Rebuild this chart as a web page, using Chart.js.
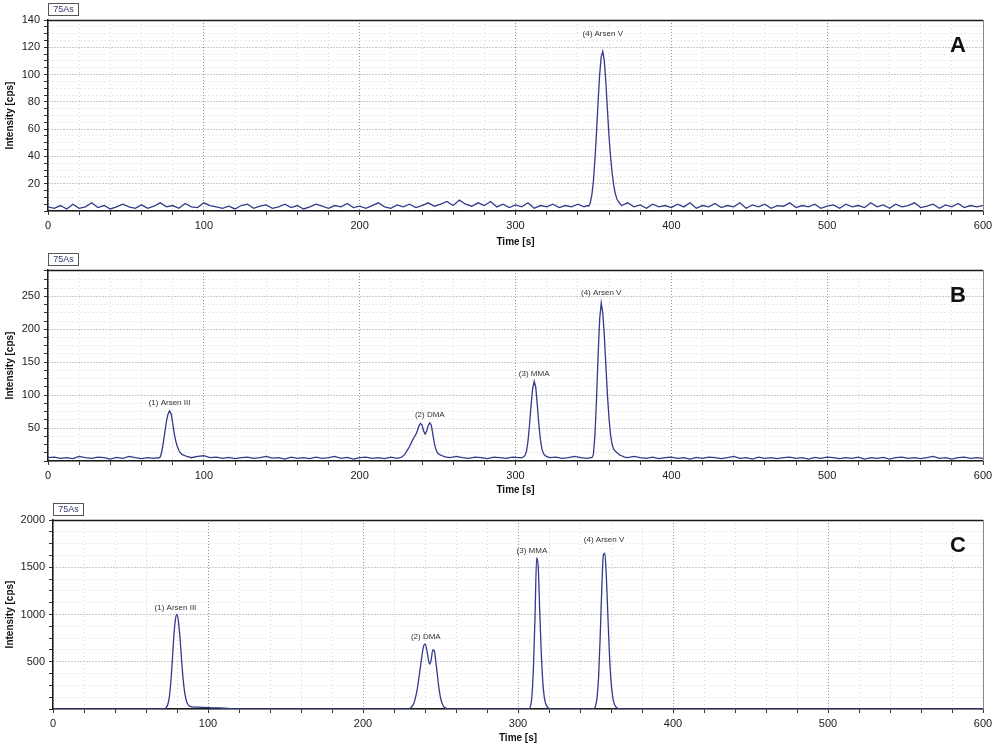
<!DOCTYPE html>
<html>
<head>
<meta charset="utf-8">
<script src="https://cdn.jsdelivr.net/npm/chart.js@4.4.1/dist/chart.umd.min.js"></script>
<style>
  html, body { margin: 0; padding: 0; background: #fff; }
  #wrap { position: relative; width: 1000px; height: 750px; overflow: hidden; background: #fff; }
  #wrap canvas { position: absolute; left: 0; }
</style>
</head>
<body>
<div id="wrap">
  <canvas id="pa" width="1000" height="250" style="top:0"></canvas>
  <canvas id="pb" width="1000" height="250" style="top:250px"></canvas>
  <canvas id="pc" width="1000" height="250" style="top:500px"></canvas>
</div>
<script>
// ---- data (time [s] / intensity [cps]) ----
const aTime = [0,4,8,12,16,20,24,28,32,36,40,44,48,52,56,60,64,68,72,76,80,84,88,92,96,100,104,108,112,116,
  120,124,128,132,136,140,144,148,152,156,160,164,168,172,176,180,184,188,192,196,200,204,208,212,216,220,224,228,232,236,
  240,244,248,252,256,260,264,268,272,276,280,284,288,292,296,300,304,308,312,316,320,324,328,332,336,340,344,
  346,347,348,349,350,351,352,353,354,355,356,357,358,359,360,361,362,363,364,365,366,367,368,
  372,376,380,384,388,392,396,400,404,408,412,416,420,424,428,432,436,440,444,448,452,456,460,464,468,472,476,480,484,488,
  492,496,500,504,508,512,516,520,524,528,532,536,540,544,548,552,556,560,564,568,572,576,580,584,588,592,596,600];
const aCps = [3,2,4,1.5,5,2,3,6,2.5,4,1.5,3,5,3,2,4.5,2,3.5,6,3,4,2,5.5,3,2.5,6,4,3,2,3.5,
  1.5,4,5,2,3.5,4.5,2,3,5,2.5,4,1.5,3,5,3.5,2,4,3,5.5,2.5,3.5,2,4,6,3,2,4.5,3,5,2.5,
  4,6,3.5,5,7,4,8,5,3.5,6,4,7,3,5,2.5,4.5,3,6,2,4,3,5,2.5,4,3,5,3,
  4,3.5,6,12,22,38,58,80,100,113,117,110,94,74,55,40,28,19,13,9,7,5.5,4,
  6,3,4.5,2,5,3,4,2.5,5,3,6,2,4,3,5.5,2.5,4,3,6,2,4.5,3,5,2,4,3.5,6,2.5,4,3,
  5,2,3.5,4.5,2,5,3,4,2.5,6,3,4.5,2,5,3,4,6,2.5,3.5,5,2,4.5,3,5.5,2.5,4,3,4];

const bTime = [0,4,8,12,16,20,24,28,32,36,40,44,48,52,56,60,64,68,
  70,71,72,73,74,75,76,77,78,79,80,81,82,83,84,85,86,87,88,89,90,
  92,96,100,104,108,112,116,120,124,128,132,136,140,144,148,152,156,160,164,168,172,176,180,184,188,192,196,200,204,208,212,216,220,224,
  226,227,228,229,230,231,232,233,234,235,236,237,238,239,240,241,242,243,244,245,246,247,248,249,250,251,252,253,254,255,256,
  258,262,266,270,274,278,282,286,290,294,298,302,
  304,305,306,307,308,309,310,311,312,313,314,315,316,317,318,319,320,321,322,
  326,330,334,338,342,346,
  348,349,350,351,352,353,354,355,356,357,358,359,360,361,362,363,364,365,366,367,368,369,370,
  372,376,380,384,388,392,396,400,404,408,412,416,420,424,428,432,436,440,444,448,452,456,460,464,468,472,476,480,484,488,
  492,496,500,504,508,512,516,520,524,528,532,536,540,544,548,552,556,560,564,568,572,576,580,584,588,592,596,600];
const bCps = [5,6,4,5,3.5,7,5,4,6,5,3,5.5,4,7,5,3.5,5,4,
  5,4.5,6,14,28,44,60,71,76,72,58,42,30,22,16,12,10,9,8,7,6.5,
  5,7,8,5,6,4,5.5,3.5,5,6,4,5,7,4.5,5,3,6,4,5,3.5,6,4,5,7,4,5.5,3,5,6,4,5,3.5,6,4,
  5,6,8,10,14,18,22,27,32,36,40,46,53,57,55,46,41,45,54,58,54,40,26,17,12,10,9,8,7,6,6,
  5,7,5,4,6,5,3.5,6,5,4,6,5,
  5,6,8,14,30,55,85,110,121,112,85,55,32,18,11,8,7,6,5,
  6,4,5,7,5,4,
  5,5,10,40,95,160,215,240,225,190,145,100,65,40,25,18,15,13,11,9,8,7,6,
  5,7,5,4,6,3.5,5,6,4,5,3,5.5,4,6,5,3.5,5,7,4,5,3,6,4,5,3.5,5,6,4,5,3,
  5.5,4,6,5,3.5,5,4,6,3,5,4,5.5,3,5,6,4,5,3.5,5,7,4,5,3,5,6,4,5,4];

const cTime = [0,40,70,71,72,73,74,75,76,77,78,79,80,81,82,83,84,85,86,87,88,89,90,92,96,100,105,110,115,120,125,180,
  228,229,230,231,232,233,234,235,236,237,238,239,240,241,242,243,244,245,246,247,248,249,250,251,252,253,254,255,256,280,
  305,307,308,309,310,311,312,313,314,315,316,317,318,319,320,321,322,335,
  347,349,350,351,352,353,354,355,356,357,358,359,360,361,362,363,364,365,366,367,450,600];
const cCps = [0,0,0,1,4,15,45,120,280,520,780,950,1000,920,740,510,310,170,90,50,32,25,22,20,18,15,12,9,5,2,0,0,
  0,1,5,15,35,70,130,210,320,440,560,660,690,640,540,475,520,625,615,500,360,220,120,60,28,12,5,1,0,0,
  0,3,25,140,460,980,1600,1520,1050,600,290,120,50,20,8,2,0,0,
  0,5,30,120,340,750,1250,1620,1650,1400,980,580,300,140,60,25,10,4,1,0,0,0];

// peak annotations: name, time and the intensity level where the label sits
const speciesNames = ['(1) Arsen III', '(2) DMA', '(3) MMA', '(4) Arsen V'];
const aPeakNames = ['(4) Arsen V'];
const aPeakTimes = [356];
const aPeakLevels = [130];
const bPeakTimes = [78, 245, 312, 355];
const bPeakLevels = [89, 70, 133, 255];
const cPeakTimes = [79, 240.5, 309, 355.5];
const cPeakLevels = [1075, 766, 1670, 1787];

const xTickStep = 20, xTickMajor = 100;
const FONT = "Arial, 'Liberation Sans', sans-serif";
const LINE = '#333a8a';
const GRID_MAJOR = '#979797', GRID_MINOR = '#d6d6d6';

const near = (v, m) => Math.abs(v / m - Math.round(v / m)) < 1e-6;

// frame, "75As" tag, panel letter, peak labels
const panelDecor = {
  id: 'panelDecor',
  afterDraw(chart, args, o) {
    const { ctx, chartArea: a, scales: { x, y } } = chart;
    ctx.save();
    ctx.lineWidth = 1.5; ctx.strokeStyle = '#1a1a1a';
    ctx.beginPath(); ctx.moveTo(a.left, a.top + 0.5); ctx.lineTo(a.right, a.top + 0.5); ctx.stroke();
    ctx.lineWidth = 1; ctx.strokeStyle = '#8a8a8a';
    ctx.beginPath(); ctx.moveTo(a.right + 0.5, a.top); ctx.lineTo(a.right + 0.5, a.bottom); ctx.stroke();

    // tag box
    ctx.strokeStyle = '#555'; ctx.fillStyle = '#fff';
    ctx.fillRect(a.left, a.top - 17, 30, 12);
    ctx.strokeRect(a.left + 0.5, a.top - 16.5, 30, 12);
    ctx.fillStyle = '#2f3a6a'; ctx.font = '9px ' + FONT;
    ctx.textAlign = 'center'; ctx.textBaseline = 'middle';
    ctx.fillText(o.tag, a.left + 15.5, a.top - 10.5);

    // panel letter
    ctx.fillStyle = '#111'; ctx.font = 'bold 22px ' + FONT;
    ctx.fillText(o.letter, a.right - 25, a.top + 26);

    // peak labels
    ctx.fillStyle = '#333'; ctx.font = '8px ' + FONT;
    o.names.forEach((n, i) => {
      ctx.fillText(n, x.getPixelForValue(o.times[i]), y.getPixelForValue(o.levels[i]));
    });
    ctx.restore();
  }
};

function makePanel(id, p) {
  const gridColor = (major) => (c) => (c.tick && near(c.tick.value, major) ? GRID_MAJOR : GRID_MINOR);
  const gridDash = (major) => (c) => (c.tick ? (near(c.tick.value, major) ? [1, 2] : [1, 3]) : []);
  return new Chart(document.getElementById(id), {
    type: 'line',
    data: {
      datasets: [{
        data: p.time.map((t, i) => ({ x: t, y: p.cps[i] })),
        borderColor: LINE, borderWidth: 1.3, pointRadius: 0, fill: false,
        tension: p.smooth ? 0.4 : 0, cubicInterpolationMode: p.smooth ? 'monotone' : 'default'
      }]
    },
    options: {
      responsive: false, animation: false, events: [],
      layout: { padding: { top: 20, right: 17, left: 0, bottom: 0 } },
      plugins: {
        legend: { display: false }, tooltip: { enabled: false },
        panelDecor: { tag: '75As', letter: p.letter, names: p.names, times: p.peakTimes, levels: p.peakLevels }
      },
      scales: {
        x: {
          type: 'linear', min: 0, max: 600,
          afterFit: (s) => { s.height = p.xAxisH; },
          ticks: {
            stepSize: xTickStep, autoSkip: false, maxRotation: 0, minRotation: 0, padding: 4,
            color: '#222', font: { family: FONT, size: 11 },
            callback: (v) => (near(v, xTickMajor) ? String(v) : '')
          },
          grid: { color: gridColor(xTickMajor), tickColor: '#333', tickLength: 4, lineWidth: 1 },
          border: { color: '#1a1a1a', width: 1.5, dash: gridDash(xTickMajor) },
          title: { display: true, text: 'Time [s]', color: '#111', font: { family: FONT, size: 10, weight: 'bold' }, padding: { top: 0, bottom: p.titlePad } }
        },
        y: {
          type: 'linear', min: 0, max: p.yMax,
          afterFit: (s) => { s.width = p.yAxisW; },
          ticks: {
            stepSize: p.yMinor, autoSkip: false, padding: 4,
            color: '#222', font: { family: FONT, size: 11 },
            callback: (v) => (v > 0 && near(v, p.yMajor) ? String(v) : '')
          },
          grid: { color: gridColor(p.yMajor), tickColor: '#333', tickLength: 4, lineWidth: 1 },
          border: { color: '#1a1a1a', width: 1.5, dash: gridDash(p.yMajor) },
          title: { display: true, text: 'Intensity [cps]', color: '#111', font: { family: FONT, size: 10, weight: 'bold' }, padding: { top: 4, bottom: 0 } }
        }
      }
    },
    plugins: [panelDecor]
  });
}

makePanel('pa', { time: aTime, cps: aCps, letter: 'A', names: aPeakNames, peakTimes: aPeakTimes, peakLevels: aPeakLevels,
  yMax: 140, yMinor: 5, yMajor: 20, yAxisW: 48, xAxisH: 39, titlePad: 2, smooth: false });
makePanel('pb', { time: bTime, cps: bCps, letter: 'B', names: speciesNames, peakTimes: bPeakTimes, peakLevels: bPeakLevels,
  yMax: 290, yMinor: 12.5, yMajor: 50, yAxisW: 48, xAxisH: 39, titlePad: 4, smooth: false });
makePanel('pc', { time: cTime, cps: cCps, letter: 'C', names: speciesNames, peakTimes: cPeakTimes, peakLevels: cPeakLevels,
  yMax: 2000, yMinor: 125, yMajor: 500, yAxisW: 53, xAxisH: 41, titlePad: 6, smooth: true });
</script>
</body>
</html>
